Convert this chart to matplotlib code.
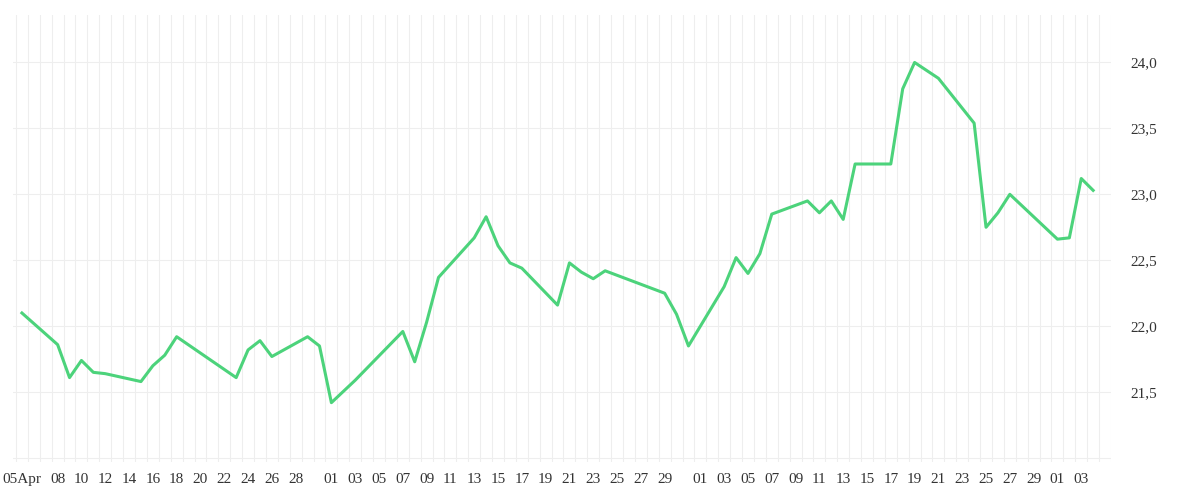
import matplotlib
matplotlib.use("Agg")
import matplotlib.pyplot as plt
import matplotlib.dates as mdates
import datetime as dt

dates = ["2024-04-05","2024-04-08","2024-04-09","2024-04-10","2024-04-11","2024-04-12","2024-04-15","2024-04-16",
 "2024-04-17","2024-04-18","2024-04-23","2024-04-24","2024-04-25","2024-04-26","2024-04-29","2024-04-30",
 "2024-05-01","2024-05-03","2024-05-07","2024-05-08","2024-05-09","2024-05-10","2024-05-13","2024-05-14",
 "2024-05-15","2024-05-16","2024-05-17","2024-05-20","2024-05-21","2024-05-22","2024-05-23","2024-05-24",
 "2024-05-29","2024-05-30","2024-05-31","2024-06-03","2024-06-04","2024-06-05","2024-06-06","2024-06-07",
 "2024-06-10","2024-06-11","2024-06-12","2024-06-13","2024-06-14","2024-06-17","2024-06-18","2024-06-19",
 "2024-06-21","2024-06-24","2024-06-25","2024-06-26","2024-06-27","2024-07-01","2024-07-02","2024-07-03","2024-07-04"]
values = [22.10,21.86,21.61,21.74,21.65,21.64,21.58,21.70,
 21.78,21.92,21.61,21.82,21.89,21.77,21.92,21.85,
 21.42,21.59,21.96,21.73,22.03,22.37,22.67,22.83,
 22.61,22.48,22.44,22.16,22.48,22.41,22.36,22.42,
 22.25,22.09,21.85,22.30,22.52,22.40,22.55,22.85,
 22.95,22.86,22.95,22.81,23.23,23.23,23.80,24.00,
 23.88,23.54,22.75,22.86,23.00,22.66,22.67,23.12,23.03]
tick_dates = ["2024-04-05","2024-04-08","2024-04-10","2024-04-12","2024-04-14","2024-04-16","2024-04-18","2024-04-20",
 "2024-04-22","2024-04-24","2024-04-26","2024-04-28"] + \
 [f"2024-05-{d:02d}" for d in range(1,30,2)] + [f"2024-06-{d:02d}" for d in range(1,30,2)] + ["2024-07-01","2024-07-03"]
tick_labels = ["05Apr"] + [d[-2:] for d in tick_dates[1:]]
yticks = [21.5,22.0,22.5,23.0,23.5,24.0]
ytick_labels = ["21,5","22,0","22,5","23,0","23,5","24,0"]

plt.rcParams['font.family'] = ['Liberation Serif', 'DejaVu Serif']
fig = plt.figure(figsize=(12,5), dpi=100)
ax = fig.add_axes([13/1200, 1-462/500, (1111-13)/1200, (462-15)/500])
x = [dt.datetime.strptime(d, "%Y-%m-%d") for d in dates]
start = dt.datetime(2024,4,4,12); end = dt.datetime(2024,7,5,12)
ax.set_xlim(start - dt.timedelta(hours=6), end)
ax.set_ylim(20.97, 24.36)
for i in range(0, (end-start).days+1):
    ax.axvline(start + dt.timedelta(days=i), color="#eeeeee", lw=0.8, zorder=0)
for yv in [21.0]+yticks:
    ax.axhline(yv, color="#eeeeee", lw=0.8, zorder=0)
ax.plot(x, values, color="#4cd37b", lw=2.2, zorder=3)
ax.set_xticks([dt.datetime.strptime(d, "%Y-%m-%d") for d in tick_dates])
ax.set_xticklabels(tick_labels, fontsize=11, color="#333333")
ax.yaxis.tick_right()
ax.set_yticks(yticks)
ax.set_yticklabels(ytick_labels, fontsize=11, color="#333333")
ax.tick_params(axis='both', length=0, pad=8)
ax.tick_params(axis='y', pad=14)
for s in ax.spines.values():
    s.set_visible(False)
fig.savefig("out.png", dpi=100, facecolor="white")
